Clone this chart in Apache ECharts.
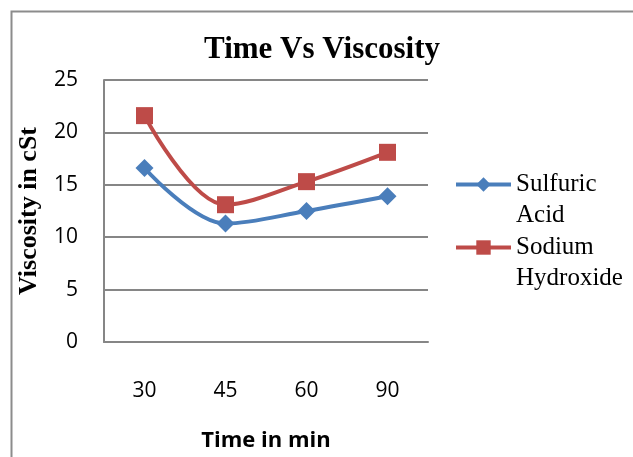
<!DOCTYPE html>
<html><head><meta charset="utf-8">
<script src="https://cdn.jsdelivr.net/npm/echarts@6/dist/echarts.min.js"></script>
<style>html,body{margin:0;padding:0;background:#fff}#c{width:633px;height:457px}</style>
</head><body><div id="c"></div>
<script>
const categories = ['30', '45', '60', '90'];
const sulfuricAcid = [16.6, 11.3, 12.5, 13.9];
const sodiumHydroxide = [21.6, 13.1, 15.3, 18.1];
const yTicks = { min: 0, max: 25, interval: 5 };

const chart = echarts.init(document.getElementById('c'), null, { renderer: 'canvas' });
const serif = '"Liberation Serif", "Times New Roman", serif';
const sans = '"Open Sans", "Liberation Sans", sans-serif';
const legendText = { fontFamily: serif, fontSize: 25, color: '#000', lineHeight: 31 };
const legendBase = {
  orient: 'vertical', itemWidth: 55, itemHeight: 18, padding: 0, itemGap: 0,
  formatter: n => '\n' + n.replace(' ', '\n'), textStyle: legendText,
  lineStyle: { width: 4 }
};
chart.setOption({
  animation: false,
  backgroundColor: '#fff',
  graphic: [{
    type: 'rect', left: 9, top: 9, silent: true,
    shape: { width: 700, height: 500 },
    style: { fill: 'none', stroke: '#8c8c8c', lineWidth: 2 }
  }],
  title: {
    text: 'Time Vs Viscosity', left: 317, top: 29, textAlign: 'center',
    textStyle: { fontFamily: serif, fontWeight: 'bold', fontSize: 31, color: '#000' }
  },
  legend: [
    Object.assign({ data: ['Sulfuric Acid'], left: 454, top: 138 }, legendBase),
    Object.assign({ data: ['Sodium Hydroxide'], left: 454, top: 201 }, legendBase)
  ],
  grid: { left: 104, top: 80, width: 324, height: 270, containLabel: false },
  xAxis: {
    type: 'category', data: categories, boundaryGap: true,
    name: 'Time in min', nameLocation: 'middle', nameGap: 88,
    nameTextStyle: { fontFamily: sans, fontWeight: 'bold', fontSize: 22, color: '#000' },
    axisLine: { lineStyle: { color: '#868686', width: 2 } },
    axisTick: { show: false },
    axisLabel: { margin: 39, fontFamily: sans, fontSize: 21, color: '#000' }
  },
  yAxis: {
    type: 'value', min: yTicks.min, max: yTicks.max, interval: yTicks.interval,
    name: 'Viscosity in cSt', nameLocation: 'middle', nameGap: 62, nameRotate: 90,
    nameTextStyle: { fontFamily: serif, fontWeight: 'bold', fontSize: 26, color: '#000' },
    axisLine: { show: true, lineStyle: { color: '#868686', width: 2 } },
    axisTick: { show: false },
    axisLabel: { margin: 26, fontFamily: sans, fontSize: 21, color: '#000' },
    splitLine: { lineStyle: { color: '#868686', width: 2 } }
  },
  series: [
    { name: 'Sulfuric Acid', type: 'line', data: sulfuricAcid, smooth: 0.35,
      symbol: 'diamond', symbolSize: 18,
      lineStyle: { color: '#4a7ebb', width: 4 }, itemStyle: { color: '#4a7ebb' } },
    { name: 'Sodium Hydroxide', type: 'line', data: sodiumHydroxide, smooth: 0.35,
      symbol: 'rect', symbolSize: 17,
      lineStyle: { color: '#be4b48', width: 4 }, itemStyle: { color: '#be4b48' } }
  ]
});
</script></body></html>
